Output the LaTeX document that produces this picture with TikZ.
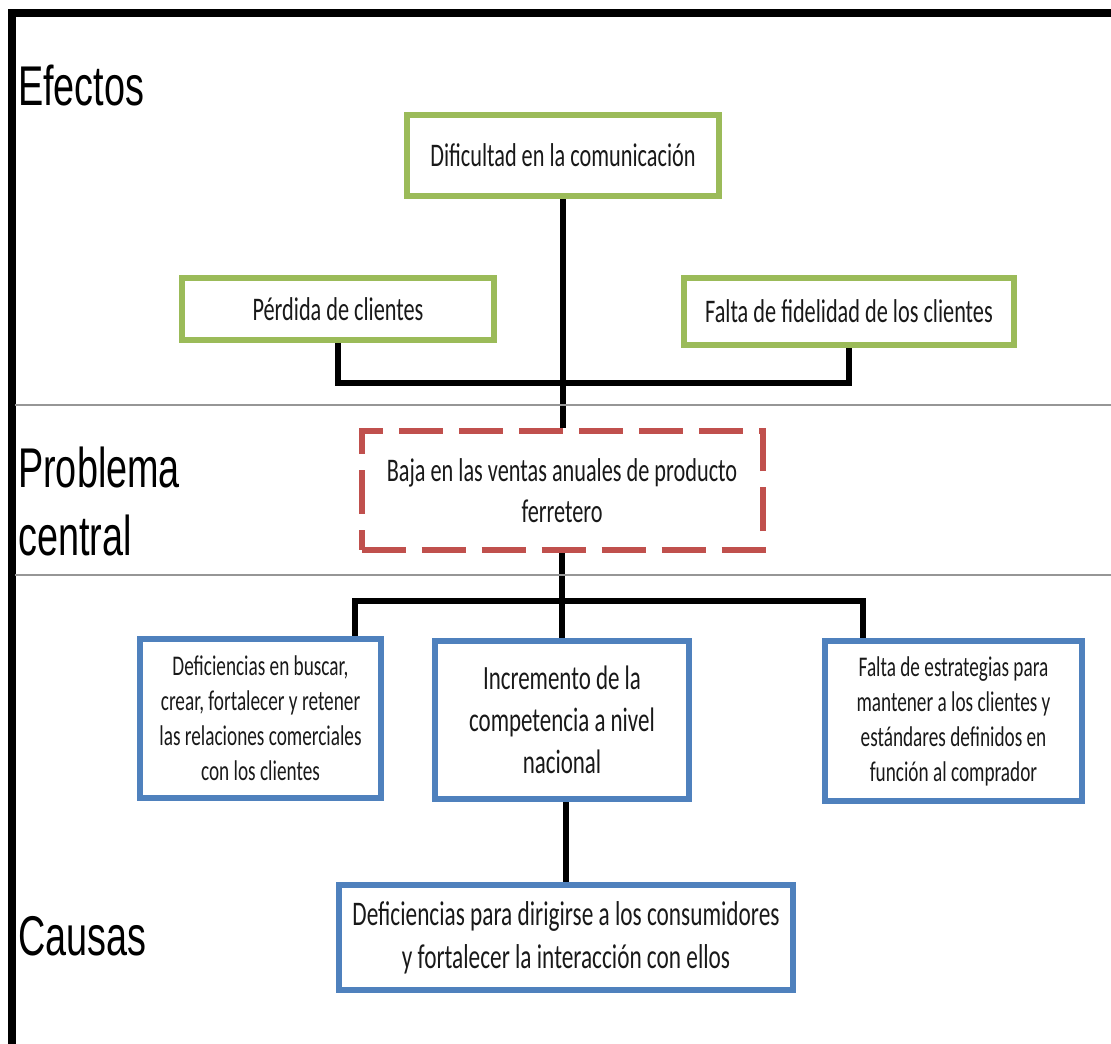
\documentclass[tikz,border=0pt]{standalone}
\usepackage{fontspec}
\setmainfont{Carlito}[FakeStretch=0.675]
\newfontfamily\seccionfont{Liberation Sans}[FakeStretch=0.675]
\usepackage{xcolor}
\usepackage{tikz}
\usetikzlibrary{positioning,backgrounds}

\definecolor{verdeefecto}{HTML}{9BBB59}
\definecolor{rojoproblema}{HTML}{C0504D}
\definecolor{azulcausa}{HTML}{4F81BD}
\definecolor{grislinea}{HTML}{969696}

\tikzset{
  caja/.style={line width=6pt, fill=white, align=center, inner sep=0pt,
               text=black!90},
  efecto/.style={caja, draw=verdeefecto, font=\fontsize{33}{41}\selectfont},
  problema/.style={caja, draw=rojoproblema, dash pattern=on 44pt off 16pt,
                   font=\fontsize{33}{41}\selectfont},
  causa/.style={caja, draw=azulcausa, font=\fontsize{28.5}{35}\selectfont},
  causagrande/.style={causa, font=\fontsize{34}{42}\selectfont},
  enlace/.style={line width=6.5pt, black, line join=miter},
  seccion/.style={font=\seccionfont\fontsize{56}{68}\selectfont,
                  align=left, inner sep=0pt}
}

\begin{document}
\begin{tikzpicture}[x=1pt,y=-1pt]
  \useasboundingbox (0,0) rectangle (1111,1044);
  % outer frame and section separators
  \draw[line width=8pt, line join=miter] (11.5,1050) -- (11.5,13) -- (1120,13);
  \draw[grislinea, line width=2pt] (15,405) -- (1111,405);
  \draw[grislinea, line width=2pt] (15,575) -- (1111,575);

  % section labels
  \node[seccion, anchor=base west] (lblefectos) at (18,105) {Efectos};
  \node[seccion, anchor=west] (lblproblema) at (18,501) {Problema\\central};
  \node[seccion, anchor=base west] (lblcausas) at (18,955) {Causas};

  % effects
  \node[efecto, minimum width=312pt, minimum height=81pt] (dificultad)
    at (563,155.5) {Dificultad en la comunicación};
  \node[efecto, minimum width=312pt, minimum height=62pt] (perdida)
    at (338,309) {Pérdida de clientes};
  \node[efecto, minimum width=330pt, minimum height=67pt] (fidelidad)
    at (849,311.5) {Falta de fidelidad de los clientes};

  % central problem
  \node[problema, minimum width=401pt, minimum height=119pt] (baja)
    at (562,490.5) {Baja en las ventas anuales de producto\\ferretero};

  % causes
  \node[causa, minimum width=241pt, minimum height=159pt] (deficiencias)
    at (260.5,718.5) {Deficiencias en buscar,\\crear, fortalecer y retener\\las relaciones comerciales\\con los clientes};
  \node[causagrande, minimum width=254pt, minimum height=158pt] (incremento)
    at (562,720) {Incremento de la\\competencia a nivel\\nacional};
  \node[causa, minimum width=257pt, minimum height=160pt] (estrategias)
    at (953.5,721) {Falta de estrategias para\\mantener a los clientes y\\estándares definidos en\\función al comprador};
  \node[causagrande, font=\fontsize{34.5}{43}\selectfont,
        minimum width=454pt, minimum height=105pt] (dirigirse)
    at (566,937.5) {Deficiencias para dirigirse a los consumidores\\y fortalecer la interacción con ellos};

  % connectors
  \begin{scope}[on background layer]
    \coordinate (rama) at (562,601);
    \draw[enlace] (dificultad.south) -- (dificultad.south |- baja.north);
    \draw[enlace] (perdida.south) -- ++(0,40) -| (fidelidad.south);
    \draw[enlace] (baja.south) -- (incremento.north);
    \draw[enlace] ([xshift=-29pt]deficiencias.north east) |- (rama)
      -| ([xshift=41pt]estrategias.north west);
    \draw[enlace] ([xshift=4pt]incremento.south) -- ([xshift=4pt]incremento.south |- dirigirse.north);
  \end{scope}
\end{tikzpicture}
\end{document}
